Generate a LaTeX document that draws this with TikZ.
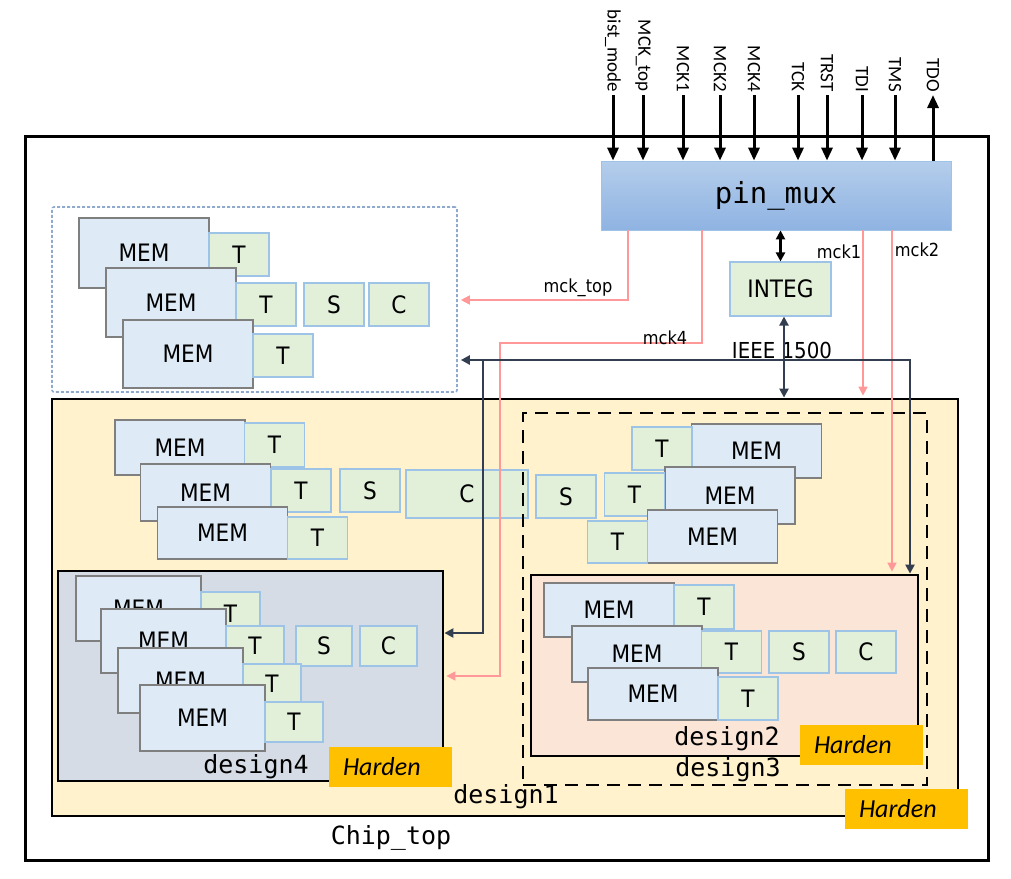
\documentclass[tikz,border=0pt]{standalone}
\usepackage{fontspec}
\usetikzlibrary{arrows.meta}

\newfontfamily\boxfont{DejaVu Sans}[FakeStretch=0.9]
\newfontfamily\pinfont{Carlito}
\newfontfamily\codefont{DejaVu Sans Mono}

\newcommand\boxtext{\boxfont\fontsize{24}{28}\selectfont}
\newcommand\wiretext{\boxfont\fontsize{18}{21}\selectfont}
\newcommand\ieeetext{\boxfont\fontsize{22}{26}\selectfont}
\newcommand\pintext{\pinfont\fontsize{19}{22}\selectfont}
\newcommand\muxtext{\codefont\fontsize{29}{34}\selectfont}
\newcommand\codetext{\codefont\fontsize{25}{30}\selectfont}
\newcommand\hardtext{\pinfont\itshape\fontsize{26}{30}\selectfont}

\definecolor{memfill}{HTML}{DEEBF7}
\definecolor{memline}{HTML}{7F7F7F}
\definecolor{tagfill}{HTML}{E2F0D9}
\definecolor{tagline}{HTML}{9DC3E6}
\definecolor{muxtop}{HTML}{B4CDEB}
\definecolor{muxbot}{HTML}{8FB3E2}
\definecolor{d1fill}{HTML}{FFF2CC}
\definecolor{d2fill}{HTML}{FBE5D6}
\definecolor{d4fill}{HTML}{D6DCE5}
\definecolor{hardfill}{HTML}{FFC000}
\definecolor{mckred}{HTML}{FF9999}
\definecolor{busnavy}{HTML}{333F50}
\definecolor{dotblue}{HTML}{8FAACC}

\begin{document}
\begin{tikzpicture}[x=1pt, y=-1pt,
  >={Triangle[length=9pt,width=9pt]},
  chip/.style    = {draw, line width=3pt, inner sep=0pt},
  grpbox/.style  = {draw=dotblue, line width=1.6pt, dash pattern=on 3pt off 2pt,
                    rounded corners=2pt, inner sep=0pt},
  design/.style  = {draw, line width=2.8pt, inner sep=0pt},
  dashbox/.style = {draw, line width=2.8pt, dash pattern=on 13pt off 8pt, inner sep=0pt},
  mem/.style     = {draw=memline, fill=memfill, line width=1.3pt, inner sep=0pt,
                    minimum width=130pt, minimum height=54pt, font=\boxtext},
  tag/.style     = {draw=tagline, fill=tagfill, line width=1.1pt, inner sep=0pt,
                    minimum width=60pt, minimum height=43pt, font=\boxtext},
  mux/.style     = {draw=tagline, top color=muxtop, bottom color=muxbot, line width=0.8pt,
                    minimum width=350pt, minimum height=69pt, font=\muxtext},
  pinlbl/.style  = {rotate=-90, anchor=east, inner sep=3pt, font=\pintext},
  pinwire/.style = {line width=3pt, -{Triangle[length=13pt,width=11pt]}},
  mck/.style     = {draw=mckred, line width=1.6pt, ->, shorten >=2pt},
  bus/.style     = {draw=busnavy, line width=2.3pt},
  wirelbl/.style = {font=\wiretext, inner sep=0pt},
  dname/.style   = {font=\codetext, inner sep=0pt},
  harden/.style  = {fill=hardfill, minimum height=40pt, text width=95pt,
                    inner xsep=14pt, align=left, font=\hardtext},
]
  \useasboundingbox (0,0) rectangle (1011,878);

  % outer frame and the pins on top of it
  \node[chip, minimum width=963pt, minimum height=724pt] (chip) at (506.5,498) {};
  \node[dname] (chipname) at (391,838) {Chip\_top};

  \node[mux] (mux) at (776,195.5) {pin\_mux};

  \node[pinlbl] (bist)   at (613,95) {bist\_mode};
  \node[pinlbl] (mcktop) at (643,95) {MCK\_top};
  \node[pinlbl] (mck1)   at (683,95) {MCK1};
  \node[pinlbl] (mck2)   at (720,95) {MCK2};
  \node[pinlbl] (mck4)   at (754,95) {MCK4};
  \node[pinlbl] (tck)    at (798,95) {TCK};
  \node[pinlbl] (trst)   at (827,95) {TRST};
  \node[pinlbl] (tdi)    at (862,95) {TDI};
  \node[pinlbl] (tms)    at (895,95) {TMS};
  \node[pinlbl] (tdo)    at (933,95) {TDO};

  \draw[pinwire] (bist)   -- (bist |- mux.north);
  \draw[pinwire] (mcktop) -- (mcktop |- mux.north);
  \draw[pinwire] (mck1)   -- (mck1 |- mux.north);
  \draw[pinwire] (mck2)   -- (mck2 |- mux.north);
  \draw[pinwire] (mck4)   -- (mck4 |- mux.north);
  \draw[pinwire] (tck)    -- (tck |- mux.north);
  \draw[pinwire] (trst)   -- (trst |- mux.north);
  \draw[pinwire] (tdi)    -- (tdi |- mux.north);
  \draw[pinwire] (tms)    -- (tms |- mux.north);
  \draw[pinwire] (mux.north -| tdo) -- (tdo);

  \node[tag, minimum width=101pt, minimum height=54pt] (integ) at (780.5,289) {INTEG};

  % top level memories, not hardened
  \node[grpbox, minimum width=405pt, minimum height=185pt] (grp) at (254.5,299.5) {};
  \node[mem, minimum height=70pt] (gm1) at (144,253)   {MEM};
  \node[tag]                      (gt1) at (239,254.5) {T};
  \node[mem, minimum height=69pt] (gm2) at (171,302.5) {MEM};
  \node[tag]                      (gt2) at (266,304.5) {T};
  \node[tag]                      (gs)  at (334,304.5) {S};
  \node[tag]                      (gc)  at (399,304.5) {C};
  \node[mem, minimum height=68pt] (gm3) at (188,354)   {MEM};
  \node[tag]                      (gt3) at (283,355.5) {T};

  % design1
  \node[design, fill=d1fill, minimum width=906pt, minimum height=417pt] (d1) at (505,607.5) {};
  \node[mem, minimum height=55pt] (am1) at (180,447.5)   {MEM};
  \node[tag, minimum height=44pt] (at1) at (274.5,445)   {T};
  \node[mem, minimum height=57pt] (am2) at (205.5,492.5) {MEM};
  \node[tag]                      (at2) at (301,490.5)   {T};
  \node[tag]                      (as1) at (370,490.5)   {S};
  \node[tag, minimum width=122pt, minimum height=48pt] (ac) at (467,494) {C};
  \node[tag]                      (as2) at (566,496.5)   {S};
  \node[mem, minimum height=52pt] (am3) at (222.5,533)   {MEM};
  \node[tag, minimum height=42pt] (at3) at (317.5,538)   {T};

  \node[mem]                      (bm1) at (756.5,451)   {MEM};
  \node[tag]                      (bt1) at (662,448.5)   {T};
  \node[mem, minimum height=57pt] (bm2) at (730,495.5)   {MEM};
  \node[tag]                      (bt2) at (634.5,494.5) {T};
  \node[mem, minimum height=53pt] (bm3) at (712.5,536.5) {MEM};
  \node[tag, minimum height=42pt] (bt3) at (617.5,542)   {T};

  % design3 and design2
  \node[dashbox, minimum width=404pt, minimum height=372pt] (d3) at (725,599) {};
  \node[design, fill=d2fill, minimum width=387pt, minimum height=181pt] (d2) at (724.5,665.5) {};
  \node[mem]                      (cm1) at (609,610)     {MEM};
  \node[tag, minimum height=44pt] (ct1) at (704,607)     {T};
  \node[mem, minimum height=56pt] (cm2) at (637,654)     {MEM};
  \node[tag, minimum height=42pt] (ct2) at (731.5,652)   {T};
  \node[tag, minimum height=42pt] (cs)  at (799,652)     {S};
  \node[tag, minimum height=42pt] (cc)  at (866,652)     {C};
  \node[mem, minimum height=52pt] (cm3) at (653,694)     {MEM};
  \node[tag]                      (ct3) at (748,698.5)   {T};

  % design4
  \node[design, fill=d4fill, minimum width=385pt, minimum height=210pt] (d4) at (250.5,676) {};
  \node[mem, minimum width=125pt, minimum height=65pt] (em1) at (138.5,608.5) {MEM};
  \node[tag, minimum width=59pt]                       (et1) at (230.5,613.5) {T};
  \node[mem, minimum width=125pt, minimum height=64pt] (em2) at (163.5,641)   {MEM};
  \node[tag, minimum width=58pt, minimum height=40pt]  (et2) at (255,646)     {T};
  \node[tag, minimum width=56pt, minimum height=40pt]  (es)  at (324,646)     {S};
  \node[tag, minimum width=57pt, minimum height=40pt]  (ec)  at (388.5,646)   {C};
  \node[mem, minimum width=125pt, minimum height=65pt] (em3) at (180.5,680.5) {MEM};
  \node[tag, minimum width=58pt, minimum height=40pt]  (et3) at (272,684)     {T};
  \node[mem, minimum width=125pt, minimum height=66pt] (em4) at (202.5,718)   {MEM};
  \node[tag, minimum width=58pt, minimum height=40pt]  (et4) at (294,722)     {T};

  \node[dname] (d4name) at (256,767) {design4};
  \node[dname] (d2name) at (727,739) {design2};
  \node[dname] (d3name) at (728,770) {design3};
  \node[dname] (d1name) at (506,797) {design1};

  % clocks from pin_mux
  \draw[mck, shorten >=3pt] (mux.south -| 628,0) |- (grp.east |- 0,300);
  \draw[mck] (mux.south -| 702,0) |- (500,343) |- (d4.east);
  \draw[mck] (mux.south -| 863,0) -- (d1.north -| 863,0);
  \draw[mck] (mux.south -| 892,0) -- (d2.north -| 892,0);

  \node[wirelbl] (lmcktop) at (578,288) {mck\_top};
  \node[wirelbl] (lmck4)   at (665,338) {mck4};
  \node[wirelbl] (lmck1)   at (839,252) {mck1};
  \node[wirelbl] (lmck2)   at (917,250) {mck2};

  % IEEE 1500 network
  \node[wirelbl, font=\ieeetext] (lieee) at (782,350) {IEEE 1500};
  \coordinate (jt) at (910,360);
  \coordinate (jd) at (483,360);
  \draw[line width=3pt, <->] (mux.south -| integ) -- (integ);
  \draw[bus, <->] (integ.south -| 784,0) -- (d1.north -| 784,0);
  \draw[bus, <->, shorten <=3pt] (grp.east |- jt) -- (jt) -- (d2.north -| jt);
  \draw[bus, ->] (jd) |- (d4.east |- 0,633);

  \node[harden] (h4) at (390.5,766.5) {Harden};
  \node[harden] (h2) at (861.5,744.5) {Harden};
  \node[harden] (h1) at (906.5,809)   {Harden};
\end{tikzpicture}
\end{document}
